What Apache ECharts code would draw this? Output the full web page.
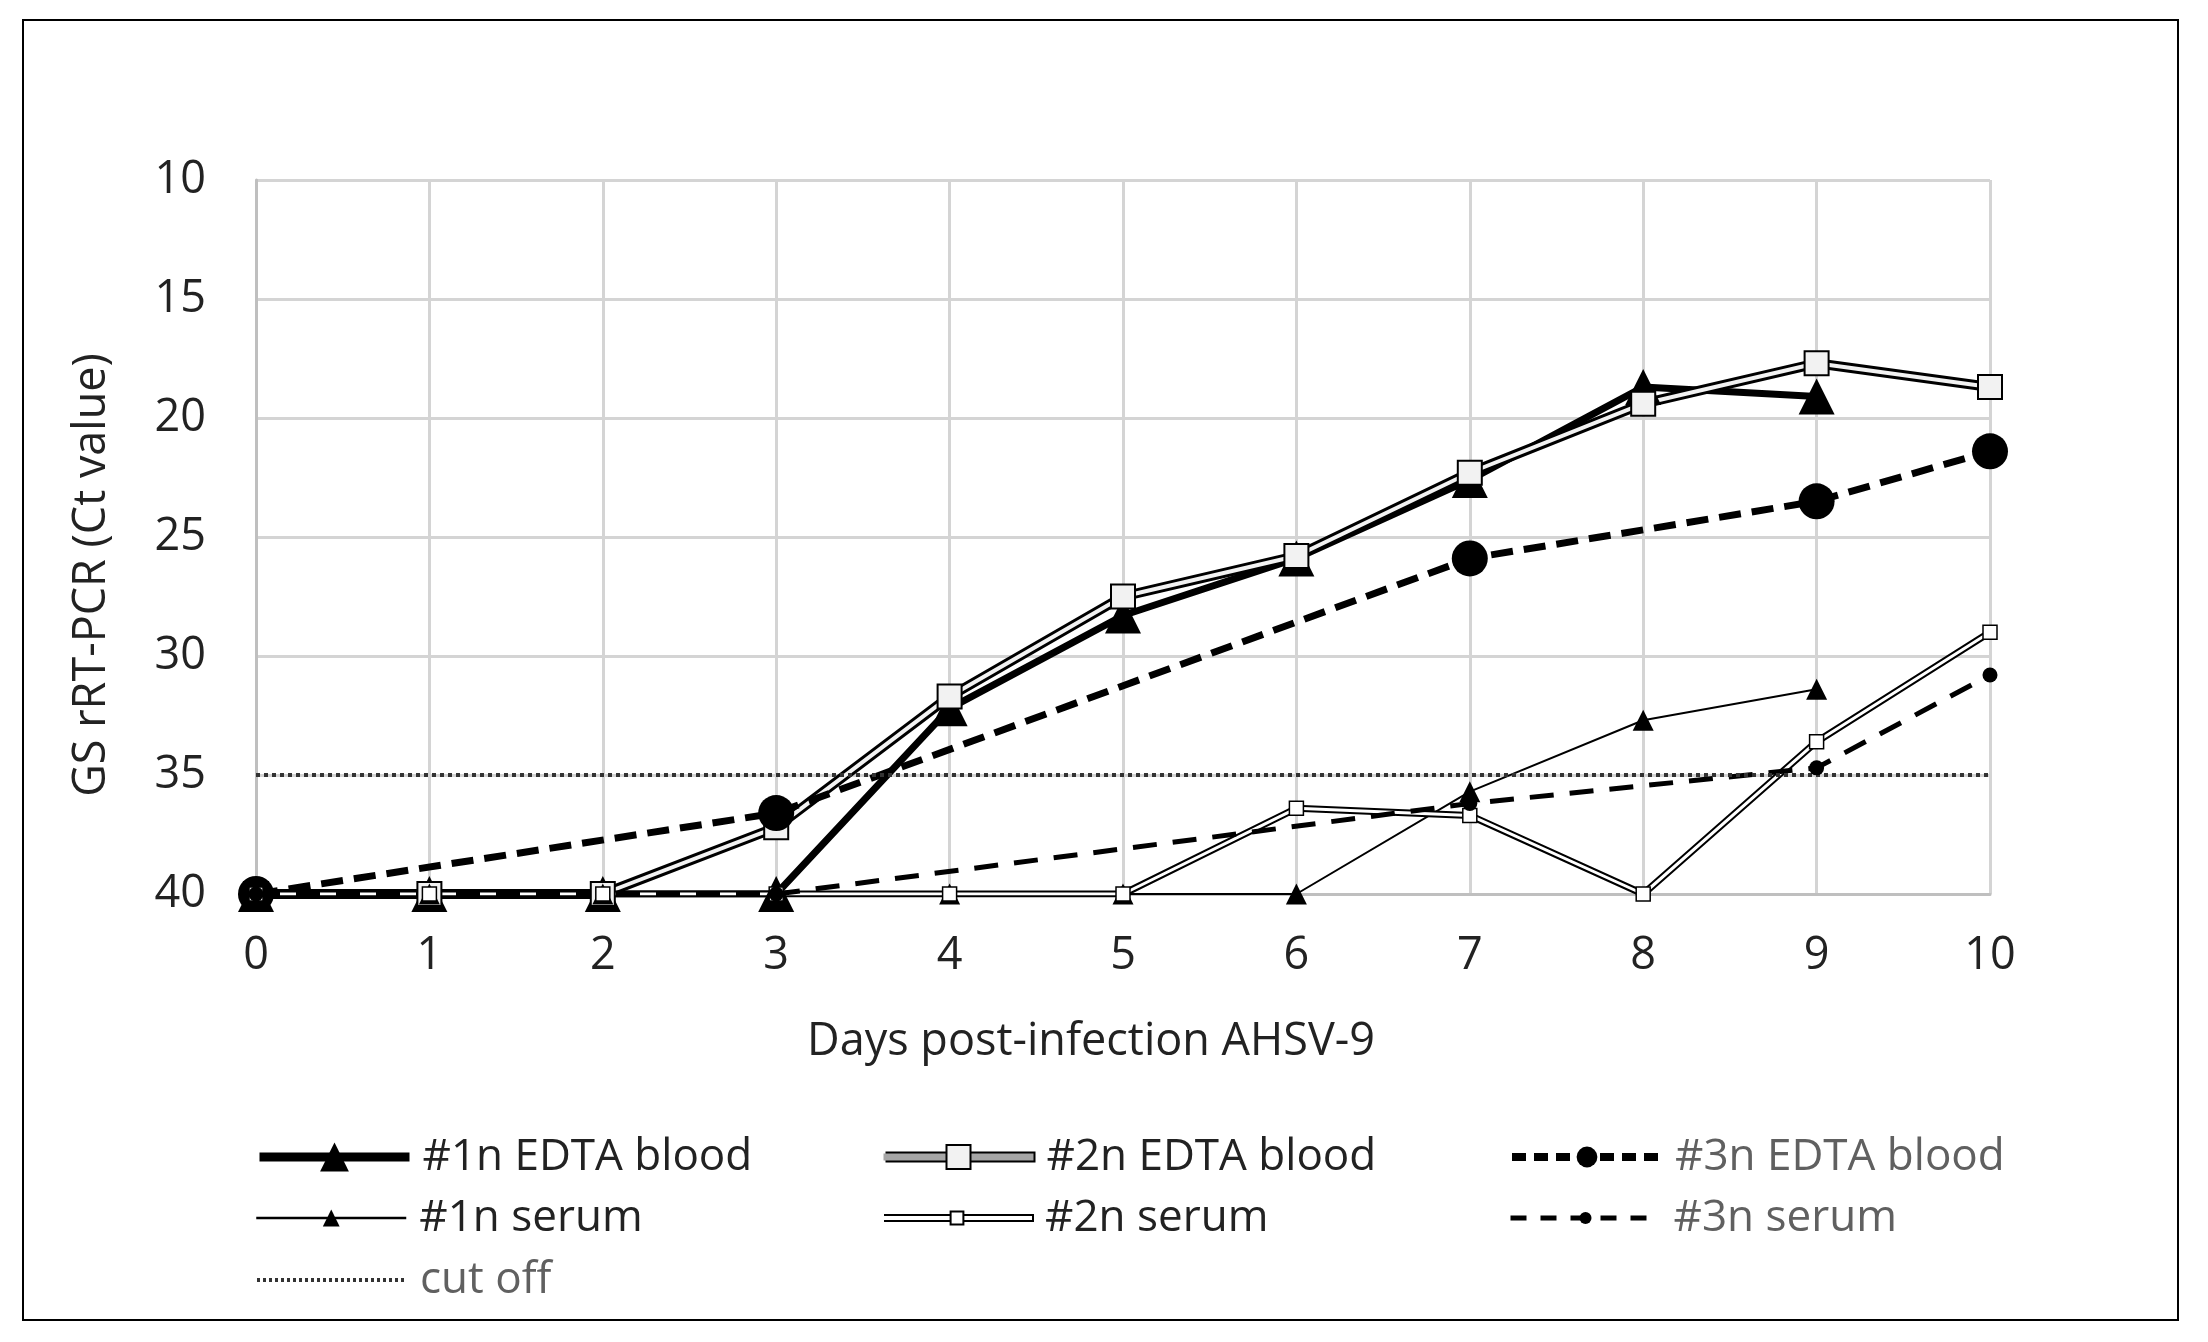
<!DOCTYPE html>
<html><head><meta charset="utf-8">
<script src="https://cdn.jsdelivr.net/npm/echarts@6/dist/echarts.min.js"></script>
<style>html,body{margin:0;padding:0;background:#fff}#c{width:2208px;height:1342px}</style>
</head><body><div id="c"></div>
<script>
// ---- data ----
const days = [0, 1, 2, 3, 4, 5, 6, 7, 8, 9, 10];
const yTicks = [10, 15, 20, 25, 30, 35, 40];
const edta1  = [40, 40, 40, 40, 32.2, 28.3, 25.9, 22.6, 18.7, 19.1, null];
const edta2  = [40, 40, 40, 37.2, 31.7, 27.5, 25.8, 22.3, 19.4, 17.7, 18.7];
const edta3  = [40, null, null, 36.6, null, null, null, 25.9, null, 23.5, 21.4];
const serum1 = [40, 40, 40, 40, 40, 40, 40, 35.7, 32.7, 31.4, null];
const serum2 = [40, 40, 40, 40, 40, 40, 36.4, 36.7, 40, 33.6, 29.0];
const serum3 = [40, null, null, 40, null, null, null, 36.2, null, 34.7, 30.8];
const cutoff = [35, 35, 35, 35, 35, 35, 35, 35, 35, 35, 35];
const seriesNames = ['#1n EDTA blood', '#2n EDTA blood', '#3n EDTA blood', '#1n serum', '#2n serum', '#3n serum', 'cut off'];
const xTitle = 'Days post-infection AHSV-9';
const yTitle = 'GS rRT-PCR (Ct value)';

const pts = arr => days.map((d, i) => [d, arr[i] == null ? '-' : arr[i]]);
const FONT = 'Open Sans';
const OUT2E = 'outline 2E', OUT2S = 'outline 2S';

function line(name, arr, o) {
  return Object.assign({
    type: 'line', name: name, data: pts(arr), animation: false,
    emphasis: { disabled: true }, showAllSymbol: true, connectNulls: true
  }, o);
}

const LS = {
  e1: { color: '#000', width: 7 },
  e3: { color: '#000', width: 7, type: [22, 11] },
  s1: { color: '#000', width: 2 },
  s3: { color: '#000', width: 5, type: [24, 16] },
  cut: { color: '#333', width: 4, type: [4, 4] }
};

const series = [
  line(seriesNames[0], edta1, { symbol: 'triangle', symbolSize: 36, lineStyle: LS.e1, itemStyle: { color: '#000' } }),
  line(OUT2E, edta2, { symbol: 'none', silent: true, lineStyle: { color: '#000', width: 10 }, itemStyle: { color: '#000' } }),
  line(seriesNames[1], edta2, { symbol: 'rect', symbolSize: 24, lineStyle: { color: '#f2f2f2', width: 4 }, itemStyle: { color: '#f2f2f2', borderColor: '#000', borderWidth: 2 } }),
  line(seriesNames[2], edta3, { symbol: 'circle', symbolSize: 36, lineStyle: LS.e3, itemStyle: { color: '#000' } }),
  line(seriesNames[3], serum1, { symbol: 'triangle', symbolSize: 21, lineStyle: LS.s1, itemStyle: { color: '#000' } }),
  line(OUT2S, serum2, { symbol: 'none', silent: true, lineStyle: { color: '#000', width: 7 }, itemStyle: { color: '#000' } }),
  line(seriesNames[4], serum2, { symbol: 'rect', symbolSize: 14, lineStyle: { color: '#ffffff', width: 3 }, itemStyle: { color: '#ffffff', borderColor: '#000', borderWidth: 1.5 } }),
  line(seriesNames[5], serum3, { symbol: 'circle', symbolSize: 15, lineStyle: LS.s3, itemStyle: { color: '#000' } }),
  line(seriesNames[6], cutoff, { symbol: 'none', lineStyle: LS.cut, itemStyle: { color: '#333' } })
];

const rowC = [1157, 1218, 1280];
const colL = [255, 880, 1508];
function leg(item, col, row, h, color, extra) {
  return Object.assign({
    data: [item], left: colL[col], top: rowC[row] - 25, padding: 0,
    itemWidth: 150, itemHeight: h, selectedMode: false,
    textStyle: { fontFamily: FONT, fontSize: 44, color: color, lineHeight: 50, padding: [0, 0, 0, 8] }
  }, extra || {});
}
const legends = [
  leg({ name: seriesNames[0], lineStyle: { color: '#000', width: 9 } }, 0, 0, 36, '#222'),
  leg({ name: OUT2E, itemStyle: { opacity: 0 }, lineStyle: { color: '#000', width: 11 } }, 1, 0, 30, '#222', { formatter: () => ' ', z: 4 }),
  leg({ name: seriesNames[1], lineStyle: { color: '#a6a6a6', width: 7 } }, 1, 0, 30, '#222', { z: 5 }),
  leg({ name: seriesNames[2], lineStyle: { color: '#000', width: 8, type: [14, 8] } }, 2, 0, 26, '#606060'),
  leg({ name: seriesNames[3], lineStyle: { color: '#000', width: 2.5 } }, 0, 1, 21, '#222'),
  leg({ name: OUT2S, itemStyle: { opacity: 0 }, lineStyle: { color: '#000', width: 8 } }, 1, 1, 16, '#222', { formatter: () => ' ', z: 4 }),
  leg({ name: seriesNames[4], lineStyle: { color: '#ffffff', width: 4 } }, 1, 1, 16, '#222', { z: 5 }),
  leg({ name: seriesNames[5], lineStyle: { color: '#000', width: 5, type: [16, 14] } }, 2, 1, 15, '#606060'),
  leg({ name: seriesNames[6], itemStyle: { opacity: 0 }, lineStyle: { color: '#333', width: 4, type: [3, 3] } }, 0, 2, 20, '#606060')
];

const chart = echarts.init(document.getElementById('c'));
chart.setOption({
  backgroundColor: '#fff',
  animation: false,
  grid: { left: 256, right: 218, top: 180, bottom: 448, containLabel: false },
  xAxis: {
    type: 'value', min: days[0], max: days[days.length - 1], interval: 1,
    axisLine: { show: true, onZero: false, lineStyle: { color: '#bfbfbf', width: 3 } },
    axisTick: { show: false },
    splitLine: { show: true, lineStyle: { color: '#d4d4d4', width: 3 } },
    axisLabel: { fontFamily: FONT, fontSize: 45, color: '#222', margin: 40 }
  },
  yAxis: {
    type: 'value', inverse: true, min: yTicks[0], max: yTicks[yTicks.length - 1], interval: yTicks[1] - yTicks[0],
    axisLine: { show: true, lineStyle: { color: '#bfbfbf', width: 3 } },
    axisTick: { show: false },
    splitLine: { show: true, lineStyle: { color: '#d4d4d4', width: 3 } },
    axisLabel: { fontFamily: FONT, fontSize: 45, color: '#222', margin: 50 }
  },
  legend: legends,
  series: series,
  graphic: [
    { type: 'rect', shape: { x: 23, y: 20, width: 2155, height: 1300 }, style: { fill: 'none', stroke: '#000', lineWidth: 2 }, silent: true, z: -1 },
    { type: 'text', x: 92, y: 575, rotation: Math.PI / 2, style: { text: yTitle, fontFamily: FONT, fontSize: 45, fill: '#222', align: 'center', verticalAlign: 'middle' } },
    { type: 'text', x: 1091, y: 1042, style: { text: xTitle, fontFamily: FONT, fontSize: 45, fill: '#222', align: 'center', verticalAlign: 'middle' } }
  ]
});
</script></body></html>
